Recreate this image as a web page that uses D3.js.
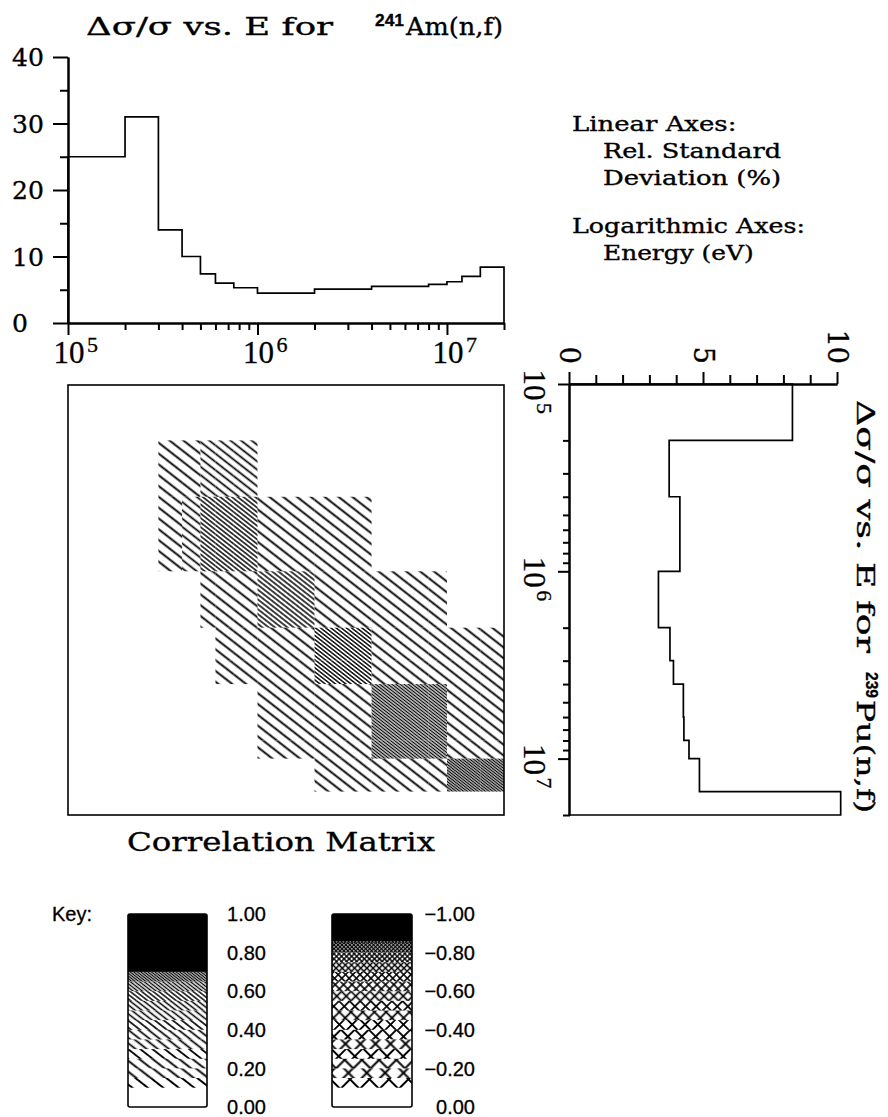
<!DOCTYPE html>
<html>
<head>
<meta charset="utf-8">
<script src="https://cdn.jsdelivr.net/npm/d3@7"></script>
<style>
    body { margin: 0; background: #fff; }
    svg { display: block; }
    .slab { font-family: "DejaVu Serif", "Liberation Serif", serif; stroke: #000; stroke-width: 0.35px; }
    .serif { font-family: "Liberation Serif", "Times New Roman", serif; stroke: #000; stroke-width: 0.3px; }
    .sans { font-family: "Liberation Sans", Arial, sans-serif; stroke: #000; stroke-width: 0.3px; }
</style>
</head>
<body>
<script>
// ! DATA ! //
// group boundaries (eV) and relative standard deviation (%) for 241Am(n,f)
const amEdges = [1e5, 2e5, 3e5, 4e5, 5e5, 6e5, 7.5e5, 1e6, 2e6, 4e6, 8e6, 1e7, 1.2e7, 1.5e7, 2e7];
const amRsd = [25, 31, 14, 10, 7.4, 6.0, 5.3, 4.5, 5.1, 5.5, 5.8, 6.2, 7.0, 8.4];
// group boundaries (eV) and relative standard deviation (%) for 239Pu(n,f)
const puEdges = [1e5, 2e5, 4e5, 1e6, 2e6, 3e6, 4e6, 6e6, 8e6, 1e7, 1.5e7, 2e7];
const puRsd = [8.3, 3.7, 4.1, 3.3, 3.73, 3.86, 4.23, 4.25, 4.44, 4.83, 10.1];

// correlation matrix: rows = Pu groups (top -> bottom), cols = Am groups (left -> right)
const corr = [
    [0, 0, 0, 0, 0, 0, 0, 0, 0, 0, 0, 0, 0, 0],
    [0, 0, 0.2, 0.2, 0.35, 0.35, 0.35, 0, 0, 0, 0, 0, 0, 0],
    [0, 0, 0.2, 0.35, 0.57, 0.57, 0.57, 0.2, 0.2, 0, 0, 0, 0, 0],
    [0, 0, 0, 0, 0.2, 0.2, 0.2, 0.55, 0.2, 0.2, 0.2, 0, 0, 0],
    [0, 0, 0, 0, 0, 0.2, 0.2, 0.2, 0.6, 0.2, 0.2, 0.2, 0.2, 0.2],
    [0, 0, 0, 0, 0, 0.2, 0.2, 0.2, 0.6, 0.2, 0.2, 0.2, 0.2, 0.2],
    [0, 0, 0, 0, 0, 0, 0, 0.2, 0.2, 0.65, 0.65, 0.2, 0.2, 0.2],
    [0, 0, 0, 0, 0, 0, 0, 0.2, 0.2, 0.65, 0.65, 0.2, 0.2, 0.2],
    [0, 0, 0, 0, 0, 0, 0, 0.2, 0.2, 0.65, 0.65, 0.2, 0.2, 0.2],
    [0, 0, 0, 0, 0, 0, 0, 0, 0.2, 0.2, 0.2, 0.67, 0.67, 0.67],
    [0, 0, 0, 0, 0, 0, 0, 0, 0, 0, 0, 0, 0, 0],
];

const decadeTicks = [1e5, 1e6, 1e7];
const amValueTicks = [0, 10, 20, 30, 40];
const amValueMinor = [5, 15, 25, 35];
const puValueTicks = [0, 5, 10];
const puValueMinor = [1, 2, 3, 4, 6, 7, 8, 9];
const posKeyTicks = [0, 0.2, 0.4, 0.6, 0.8, 1.0];
const negKeyTicks = [0, -0.2, -0.4, -0.6, -0.8, -1.0];

const amTitle = ["Δσ/σ vs. E for", "241", "Am(n,f)"];
const puTitle = ["Δσ/σ vs. E for", "239", "Pu(n,f)"];
const infoLines = ["Linear Axes:", "Rel. Standard", "Deviation (%)", "Logarithmic Axes:", "Energy (eV)"];

// ^ SVG ^ //
const svg = d3.select("body").append("svg").attr("width", 888).attr("height", 1117);
svg.append("rect").attr("width", 888).attr("height", 1117).attr("fill", "#fff");
const defs = svg.append("defs");

// hatch density: value -> horizontal line spacing
const posSpacing = d3.scaleLinear().domain([0.1, 0.7]).range([16, 3]).clamp(true);
const negSpacing = d3.scaleLinear().domain([0.1, 0.85]).range([20, 3.4]).clamp(true);
const lineWidth = d3.scaleLinear().domain([16, 3]).range([2, 1.3]).clamp(true);

const patternCache = new Map();
const hatchFill = (v, cross) => {
    const key = (cross ? "x" : "h") + v.toFixed(3);
    if (patternCache.has(key)) return patternCache.get(key);
    const id = "pat" + patternCache.size;
    const hs = cross ? negSpacing(v) : posSpacing(v);
    const ang = cross ? 45 : 38;
    const s = hs * Math.sin((ang * Math.PI) / 180);
    const w = cross ? s : 20;
    const p = defs
        .append("pattern")
        .attr("id", id)
        .attr("patternUnits", "userSpaceOnUse")
        .attr("width", w)
        .attr("height", s)
        .attr("patternTransform", `rotate(${ang})`);
    p.append("line").attr("x1", 0).attr("x2", w).attr("y1", s / 2).attr("y2", s / 2)
        .attr("stroke", "#000").attr("stroke-width", lineWidth(hs));
    if (cross) {
        p.append("line").attr("x1", s / 2).attr("x2", s / 2).attr("y1", 0).attr("y2", s)
            .attr("stroke", "#000").attr("stroke-width", lineWidth(hs));
    }
    const url = `url(#${id})`;
    patternCache.set(key, url);
    return url;
};

// ! HISTOGRAM (drawn in its own frame, energy along x) ! //
const drawHist = (g, edges, vals, title, cfg) => {
    const x = d3.scaleLog().domain([edges[0], edges[edges.length - 1]]).range([0, cfg.w]);
    const y = d3.scaleLinear().domain([0, cfg.vMax]).range([cfg.h, 0]);
    const minorE = x.ticks().filter((t) => !decadeTicks.includes(t));

    const eAxis = g.append("g").attr("transform", `translate(0,${cfg.h})`);
    eAxis.append("g").call(d3.axisBottom(x).tickValues(minorE).tickSize(7).tickFormat("").tickSizeOuter(0));
    eAxis.append("g").call(d3.axisBottom(x).tickValues(decadeTicks).tickSize(12).tickFormat("").tickSizeOuter(0));

    const vAxis = g.append("g");
    vAxis.append("g").call(d3.axisLeft(y).tickValues(cfg.minor).tickSize(cfg.minorLen).tickFormat("").tickSizeOuter(0));
    vAxis.append("g").call(d3.axisLeft(y).tickValues(cfg.major).tickSize(cfg.majorLen).tickFormat("").tickSizeOuter(0));
    g.selectAll(".domain, .tick line").attr("stroke", "#000").attr("stroke-width", 2);

    // step line
    const pts = [[edges[0], 0]];
    vals.forEach((v, i) => pts.push([edges[i], v]));
    pts.push([edges[edges.length - 1], vals[vals.length - 1]]);
    pts.push([edges[edges.length - 1], 0]);
    g.append("path")
        .attr("d", d3.line().x((d) => x(d[0])).y((d) => y(d[1])).curve(d3.curveStepAfter)(pts))
        .attr("fill", "none")
        .attr("stroke", "#000")
        .attr("stroke-width", 1.7);

    // energy labels 10^n
    const eLab = g.selectAll(".elab").data(decadeTicks).enter().append("g").attr("class", "elab");
    eLab.append("text").attr("class", "serif").attr("x", (d) => x(d) + 1).attr("y", cfg.h + cfg.expOff[0])
        .attr("text-anchor", "middle").attr("font-size", 31).text("10");
    eLab.append("text").attr("class", "serif").attr("x", (d) => x(d) + 19).attr("y", cfg.h + cfg.expOff[1])
        .attr("font-size", 22).text((d) => Math.round(Math.log10(d)));

    // value labels
    g.selectAll(".vlab").data(cfg.major).enter().append("text").attr("class", "slab")
        .attr("x", cfg.labX).attr("y", (d) => y(d)).attr("dy", "0.36em")
        .attr("text-anchor", cfg.labAnchor).attr("font-size", cfg.labSize).text((d) => d);

    // title
    const t = cfg.title;
    g.append("text").attr("class", "slab").attr("x", t.x0).attr("y", t.base).attr("font-size", 24)
        .attr("textLength", t.len0).attr("lengthAdjust", "spacingAndGlyphs").text(title[0]);
    g.append("text").attr("class", "sans").attr("x", t.x1).attr("y", t.base - 9).attr("font-size", 16)
        .attr("font-weight", "bold").attr("textLength", t.len1).attr("lengthAdjust", "spacingAndGlyphs").text(title[1]);
    g.append("text").attr("class", "slab").attr("x", t.x2).attr("y", t.base).attr("font-size", 24)
        .attr("textLength", t.len2).attr("lengthAdjust", "spacingAndGlyphs").text(title[2]);
    return x;
};

// ^ TOP: 241Am ^ //
const topG = svg.append("g").attr("transform", "translate(68,57)");
drawHist(topG, amEdges, amRsd, amTitle, {
    w: 436, h: 266, vMax: 40,
    major: amValueTicks, minor: amValueMinor, majorLen: 15, minorLen: 8,
    labX: -56, labAnchor: "start", labSize: 25, expOff: [40, 29],
    title: { x0: 18, len0: 247, x1: 307, len1: 29, x2: 338, len2: 97, base: -22 },
});

// ^ RIGHT: 239Pu (rotated a quarter turn clockwise) ^ //
const rightG = svg.append("g").attr("transform", "translate(838,384) rotate(90)");
drawHist(rightG, puEdges, puRsd, puTitle, {
    w: 431, h: 268, vMax: 10,
    major: puValueTicks, minor: puValueMinor, majorLen: 12, minorLen: 9,
    labX: -20, labAnchor: "end", labSize: 27, expOff: [46, 33],
    title: { x0: 16, len0: 253, x1: 288, len1: 26, x2: 316, len2: 113, base: -19 },
});

// ! CORRELATION MATRIX ! //
const mx = d3.scaleLog().domain([amEdges[0], amEdges[amEdges.length - 1]]).range([68, 504]);
const my = d3.scaleLog().domain([puEdges[0], puEdges[puEdges.length - 1]]).range([384, 815]);
const cells = [];
corr.forEach((row, i) => row.forEach((v, j) => { if (v > 0.1) cells.push({ i, j, v }); }));
svg.append("g").selectAll("rect").data(cells).enter().append("rect")
    .attr("x", (d) => mx(amEdges[d.j]))
    .attr("y", (d) => my(puEdges[d.i]))
    .attr("width", (d) => mx(amEdges[d.j + 1]) - mx(amEdges[d.j]))
    .attr("height", (d) => my(puEdges[d.i + 1]) - my(puEdges[d.i]))
    .attr("fill", (d) => hatchFill(d.v, false));
svg.append("rect").attr("x", 68).attr("y", 385).attr("width", 436).attr("height", 430)
    .attr("fill", "none").attr("stroke", "#000").attr("stroke-width", 1.6);

svg.append("text").attr("class", "slab").attr("x", 127).attr("y", 851).attr("font-size", 26)
    .attr("textLength", 308).attr("lengthAdjust", "spacingAndGlyphs").text("Correlation Matrix");

// ^ INFO TEXT ^ //
svg.append("g").selectAll("text").data(infoLines).enter().append("text").attr("class", "slab")
    .attr("x", (d) => (d.endsWith(":") ? 572 : 603))
    .attr("y", (d, i) => 131 + i * 27 + (i >= 3 ? 21 : 0))
    .attr("font-size", 19.5)
    .attr("textLength", (d) => d.length * 13.7).attr("lengthAdjust", "spacingAndGlyphs")
    .text((d) => d);

// ! KEY ! //
const keyY = d3.scaleLinear().domain([0, 1]).range([1107, 914]);
svg.append("text").attr("class", "sans").attr("x", 52).attr("y", 921).attr("font-size", 20).text("Key:");

const drawKey = (x0, w, cross, blackFrom, ticks, labX) => {
    const g = svg.append("g");
    const bands = d3.range(0.1, blackFrom - 1e-9, 0.05);
    g.selectAll(".band").data(bands).enter().append("rect")
        .attr("x", x0).attr("width", w)
        .attr("y", (d) => keyY(Math.min(d + 0.05, blackFrom)))
        .attr("height", (d) => keyY(d) - keyY(Math.min(d + 0.05, blackFrom)))
        .attr("fill", (d) => hatchFill(d + 0.025, cross));
    g.append("rect").attr("x", x0).attr("width", w).attr("y", keyY(1)).attr("height", keyY(blackFrom) - keyY(1)).attr("fill", "#000");
    g.append("rect").attr("x", x0).attr("width", w).attr("y", keyY(1)).attr("height", keyY(0) - keyY(1))
        .attr("rx", 2).attr("fill", "none").attr("stroke", "#000").attr("stroke-width", 1.6);
    g.selectAll(".klab").data(ticks).enter().append("text").attr("class", "sans")
        .attr("x", labX).attr("y", (d) => keyY(Math.abs(d))).attr("dy", "0.36em")
        .attr("text-anchor", "end").attr("font-size", 20)
        .text((d) => (d < 0 ? "−" : "") + Math.abs(d).toFixed(2));
};
drawKey(128, 79, false, 0.7, posKeyTicks, 266);
drawKey(332, 80, true, 0.86, negKeyTicks, 475);
</script>
</body>
</html>
